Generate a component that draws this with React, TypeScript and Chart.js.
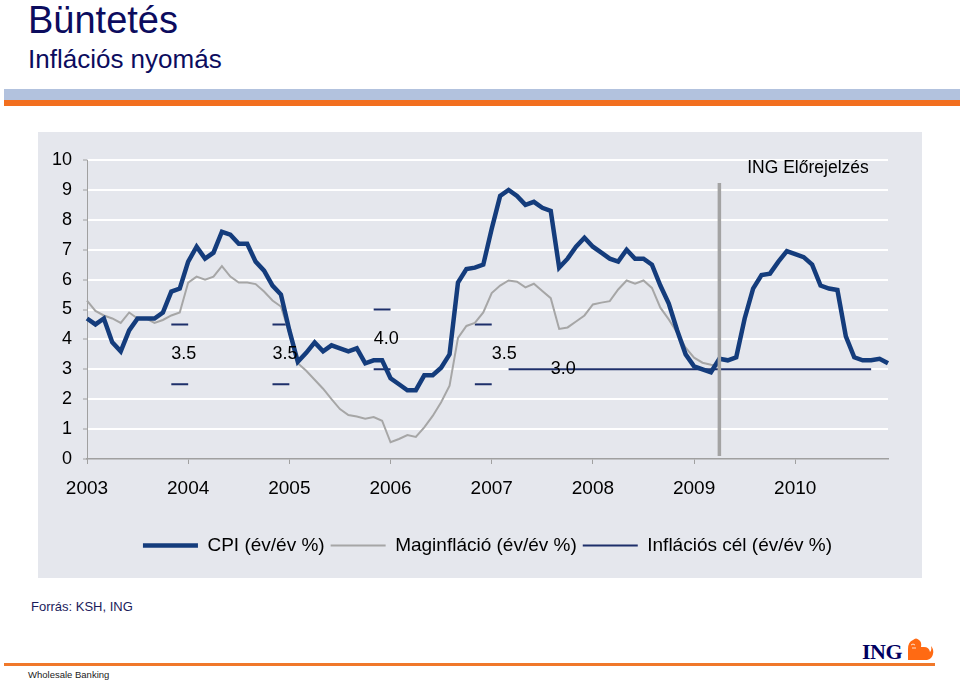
import { useEffect, useRef } from 'react';
import { Chart, registerables } from 'chart.js';

Chart.register(...registerables);

const FONT = '"Liberation Sans", Arial, sans-serif';

// Categories: monthly, Jan 2003 .. Dec 2010
const YEARS = [2003, 2004, 2005, 2006, 2007, 2008, 2009, 2010];
const MONTHS = ['01', '02', '03', '04', '05', '06', '07', '08', '09', '10', '11', '12'];
const LABELS = YEARS.flatMap((y) => MONTHS.map((m) => `${y}-${m}`));

// CPI (év/év %) — actual + ING forecast
const cpi = [
  4.7, 4.5, 4.7, 3.9, 3.6, 4.3, 4.7, 4.7, 4.7, 4.9, 5.6, 5.7,
  6.6, 7.1, 6.7, 6.9, 7.6, 7.5, 7.2, 7.2, 6.6, 6.3, 5.8, 5.5,
  4.3, 3.25, 3.55, 3.9, 3.6, 3.8, 3.7, 3.6, 3.7, 3.2, 3.3, 3.3,
  2.7, 2.5, 2.3, 2.3, 2.8, 2.8, 3.05, 3.5, 5.9, 6.35, 6.4, 6.5,
  7.7, 8.8, 9.0, 8.8, 8.5, 8.6, 8.4, 8.3, 6.4, 6.7, 7.1, 7.4,
  7.1, 6.9, 6.7, 6.6, 7.0, 6.7, 6.7, 6.5, 5.8, 5.2, 4.3, 3.5,
  3.1, 3.0, 2.9, 3.35, 3.3, 3.4, 4.7, 5.7, 6.15, 6.2, 6.6, 6.95,
  6.85, 6.75, 6.5, 5.8, 5.7, 5.65, 4.1, 3.4, 3.3, 3.3, 3.35, 3.2,
];

// Maginfláció (év/év %) — until Apr 2009
const coreInflation = [
  5.3, 4.95, 4.8, 4.7, 4.55, 4.9, 4.7, 4.7, 4.55, 4.65, 4.8, 4.9,
  5.9, 6.1, 6.0, 6.1, 6.45, 6.1, 5.9, 5.9, 5.85, 5.6, 5.3, 5.1,
  4.2, 3.2, 2.95, 2.65, 2.35, 2.0, 1.67, 1.47, 1.42, 1.35, 1.4, 1.28,
  0.56, 0.67, 0.8, 0.74, 1.06, 1.44, 1.9, 2.45, 4.05, 4.45, 4.55, 4.9,
  5.55, 5.8, 5.97, 5.93, 5.74, 5.86, 5.62, 5.38, 4.35, 4.4, 4.6, 4.8,
  5.17, 5.23, 5.28, 5.67, 5.97, 5.86, 5.97, 5.72, 5.06, 4.67, 4.22, 3.72,
  3.39, 3.22, 3.15, 3.1,
];

// Inflációs cél (év/év %) — tolerance band dashes and continuous target
const bandStartIdx = [10, 22, 34, 46];
const bandEndIdx = [12, 24, 36, 48];
const bandUpper = [4.5, 4.5, 5.0, 4.5];
const bandLower = [2.5, 2.5, 3.0, 2.5];
const targetStartIdx = 50;
const targetEndIdx = 93;
const targetValue = 3.0;

// Target value annotations
const targetLabelText = ['3.5', '3.5', '4.0', '3.5', '3.0'];
const targetLabelIdx = [10, 22, 34, 48, 55];
const targetLabelVal = [3.5, 3.5, 4.0, 3.5, 3.0];

// Forecast divider
const forecastLabel = '2009-04';
const forecastLineFrom = 0.1;
const forecastLineTo = 9.23;
const forecastText = 'ING Előrejelzés';
const forecastTextIdx = 78.3;
const forecastTextVal = 9.73;

const Y_TICKS_MAX = 10;

function segmentSeries(starts: number[], ends: number[], vals: number[]) {
  const out: (number | null)[] = LABELS.map(() => null);
  starts.forEach((s, k) => {
    for (let i = s; i <= ends[k]; i++) out[i] = vals[k];
  });
  return out;
}

const textPlugin = {
  id: 'annotTexts',
  afterDatasetsDraw(chart: any) {
    const { ctx, scales } = chart;
    const x = scales.x;
    const y = scales.y;
    ctx.save();
    ctx.fillStyle = '#000';
    ctx.textAlign = 'left';
    ctx.textBaseline = 'middle';
    ctx.font = `18px ${FONT}`;
    targetLabelText.forEach((t, k) => {
      ctx.fillText(t, x.getPixelForValue(targetLabelIdx[k]), y.getPixelForValue(targetLabelVal[k]));
    });
    ctx.font = `17.5px ${FONT}`;
    ctx.fillText(forecastText, x.getPixelForValue(forecastTextIdx), y.getPixelForValue(forecastTextVal));
    ctx.restore();
  },
};

const LEGEND_LABELS = ['CPI (év/év %)', 'Maginfláció (év/év %)', 'Inflációs cél (év/év %)'];

function InflationChart() {
  const ref = useRef<HTMLCanvasElement | null>(null);
  useEffect(() => {
    if (!ref.current) return;
    const upper = segmentSeries(bandStartIdx, bandEndIdx, bandUpper);
    const lower = segmentSeries(bandStartIdx, bandEndIdx, bandLower);
    const target = segmentSeries([targetStartIdx], [targetEndIdx], [targetValue]);
    const navy = '#143c7c';
    const targetNavy = '#1d2f6a';
    const chart = new Chart(ref.current, {
      type: 'line',
      data: {
        labels: LABELS,
        datasets: [
          {
            label: 'forecast',
            data: [
              { x: forecastLabel, y: forecastLineFrom },
              { x: forecastLabel, y: forecastLineTo },
            ] as any,
            borderColor: '#a3a3a3',
            borderWidth: 3.5,
            pointRadius: 0,
            order: -1,
          },
          {
            label: LEGEND_LABELS[0],
            data: cpi,
            borderColor: navy,
            backgroundColor: navy,
            borderWidth: 4.5,
            pointRadius: 0,
          },
          {
            label: LEGEND_LABELS[1],
            data: coreInflation,
            borderColor: '#a6a6a6',
            backgroundColor: '#a6a6a6',
            borderWidth: 2,
            pointRadius: 0,
          },
          {
            label: LEGEND_LABELS[2],
            data: target,
            borderColor: targetNavy,
            backgroundColor: targetNavy,
            borderWidth: 2,
            pointRadius: 0,
          },
          {
            label: 'upper',
            data: upper,
            borderColor: targetNavy,
            borderWidth: 2,
            pointRadius: 0,
          },
          {
            label: 'lower',
            data: lower,
            borderColor: targetNavy,
            borderWidth: 2,
            pointRadius: 0,
          },
        ],
      },
      options: {
        responsive: false,
        animation: false,
        events: [],
        layout: { padding: { top: 28, right: 34, bottom: 13, left: 0 } },
        plugins: {
          tooltip: { enabled: false },
          legend: {
            position: 'bottom',
            fullSize: false,
            labels: {
              usePointStyle: true,
              pointStyle: 'line',
              pointStyleWidth: 55,
              padding: 6,
              color: '#000',
              font: { size: 19, family: FONT },
              filter: (item: any) => LEGEND_LABELS.includes(item.text),
            },
          },
        },
        scales: {
          x: {
            type: 'category',
            offset: false,
            afterFit: (s: any) => {
              s.height = 71;
            },
            grid: {
              display: true,
              drawOnChartArea: false,
              drawTicks: true,
              tickLength: 5,
              tickColor: '#a0a0a0',
              color: '#a0a0a0',
            },
            border: { display: true, color: '#a0a0a0', width: 1.5 },
            ticks: {
              autoSkip: false,
              maxRotation: 0,
              minRotation: 0,
              padding: 13,
              color: '#000',
              font: { size: 19, family: FONT },
              callback: (_v: any, i: number) => (i % 12 === 0 ? LABELS[i].slice(0, 4) : null),
            },
          },
          y: {
            min: 0,
            max: Y_TICKS_MAX,
            afterFit: (s: any) => {
              s.width = 49;
            },
            grid: {
              color: (c: any) => (c.tick && c.tick.value === 0 ? 'rgba(0,0,0,0)' : '#ffffff'),
              lineWidth: 2,
              drawTicks: true,
              tickLength: 4,
              tickColor: '#a0a0a0',
              tickWidth: 1,
            },
            border: { display: true, color: '#a0a0a0', width: 1 },
            ticks: {
              stepSize: 1,
              padding: 11,
              color: '#000',
              font: { size: 18, family: FONT },
            },
          },
        },
      },
      plugins: [textPlugin],
    });
    return () => chart.destroy();
  }, []);
  return <canvas ref={ref} width={884} height={446} style={{ display: 'block', width: 884, height: 446 }} />;
}

export default function App() {
  const navyText = '#0c0c5e';
  return (
    <div
      style={{
        position: 'absolute',
        left: 0,
        top: 0,
        width: 960,
        height: 683,
        background: '#ffffff',
        overflow: 'hidden',
        fontFamily: FONT,
      }}
    >
      <div style={{ position: 'absolute', left: 28, top: 1, fontSize: 38, lineHeight: 1, color: navyText, whiteSpace: 'nowrap' }}>
        Büntetés
      </div>
      <div style={{ position: 'absolute', left: 28, top: 46, fontSize: 26, lineHeight: 1, color: navyText, whiteSpace: 'nowrap' }}>
        Inflációs nyomás
      </div>
      <div style={{ position: 'absolute', left: 4, top: 89, width: 956, height: 11, background: '#b2c2de' }} />
      <div style={{ position: 'absolute', left: 4, top: 100, width: 956, height: 6, background: '#f26f1f' }} />

      <div style={{ position: 'absolute', left: 38, top: 132, width: 884, height: 446, background: '#e5e7ed' }}>
        <InflationChart />
      </div>

      <div style={{ position: 'absolute', left: 31, top: 600, fontSize: 13, lineHeight: 1, color: '#1b1b5b', whiteSpace: 'nowrap' }}>
        Forrás: KSH, ING
      </div>

      <div
        style={{
          position: 'absolute',
          left: 862,
          top: 641,
          fontSize: 22,
          lineHeight: 1,
          fontWeight: 'bold',
          fontFamily: '"Liberation Serif", "DejaVu Serif", serif',
          color: '#00005f',
          letterSpacing: -0.5,
        }}
      >
        ING
      </div>
      <svg style={{ position: 'absolute', left: 905, top: 637 }} width={29} height={24} viewBox="0 0 29 24">
        <path
          d="M3 23 L3 12 Q3 5 8 3 Q11 0 14 3 Q17 5 16 10 L19 10 Q24 10 25 15 Q27 13 26 9 Q29 12 28 17 Q27 22 22 23 Z"
          fill="#ff6a13"
        />
        <path d="M6 8 Q8 6 10 8 M7 11 L11 11" stroke="#ffffff" strokeWidth={0.8} fill="none" />
      </svg>
      <div style={{ position: 'absolute', left: 4, top: 663, width: 931, height: 3, background: '#f0782a' }} />
      <div style={{ position: 'absolute', left: 28, top: 670, fontSize: 9.5, lineHeight: 1, color: '#222', whiteSpace: 'nowrap' }}>
        Wholesale Banking
      </div>
    </div>
  );
}
